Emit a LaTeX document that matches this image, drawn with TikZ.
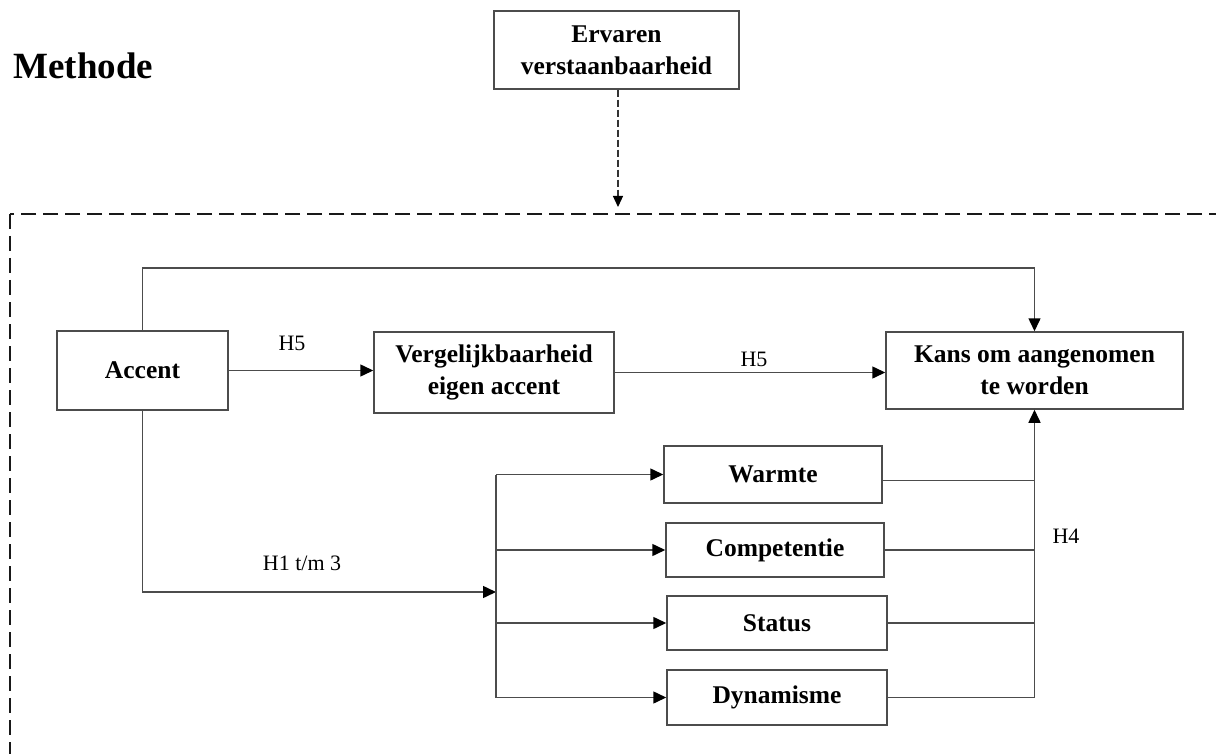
\documentclass[tikz,border=0pt]{standalone}
\usepackage{fontspec}
\setmainfont{Liberation Serif}
\usetikzlibrary{arrows.meta}

\begin{document}
\begin{tikzpicture}[
  x=1pt,
  y=-1pt,
  font=\fontsize{22}{26}\selectfont,
  box/.style={draw=black!70, line width=1.5pt, align=center, inner sep=0pt,
    font=\fontsize{25.5}{32}\selectfont\bfseries},
  small/.style={box, minimum width=220pt, minimum height=55pt},
  lbl/.style={anchor=base, font=\fontsize{22}{26}\selectfont},
  ln/.style={line width=1.5pt, draw=black!70},
  arr/.style={ln, -{Triangle[length=13pt, width=12pt, color=black]}},
  dasharr/.style={line width=1.2pt, draw=black!80, dash pattern=on 7pt off 3pt,
    -{Triangle[length=11pt, width=10pt, color=black]}},
  frame/.style={line width=2.3pt, draw=black!90, dash pattern=on 15pt off 7pt}
]

\useasboundingbox (0,0) rectangle (1216,754);
\clip (0,0) rectangle (1216,754);

% Titel en moderator
\node[anchor=base west, font=\fontsize{37}{40}\selectfont\bfseries] (title) at (10,79) {Methode};
\node[box, minimum width=245pt, minimum height=78pt] (ervaren) at (616.5,50) {Ervaren\\verstaanbaarheid};

% Gestippeld kader (loopt rechts en onder door)
\draw[frame] (10,214) rectangle (1240,790);
\coordinate (frametop) at (618,207);

% Hoofdrij
\node[box, minimum width=171pt, minimum height=79pt] (accent) at (142.5,370.5) {Accent};
\node[box, minimum width=240pt, minimum height=81pt] (verg) at (494,372.5) {Vergelijkbaarheid\\eigen accent};
\node[box, minimum width=297pt, minimum height=77pt] (kans) at (1034.5,370.5) {Kans om aangenomen\\te worden};

% Mediatoren
\node[small, minimum width=218pt, minimum height=57pt] (warmte) at (773,474.5) {Warmte};
\node[small, minimum width=218pt, minimum height=54pt] (comp) at (775,550) {Competentie};
\node[small, minimum height=54pt] (status) at (777,623) {Status};
\node[small] (dyn) at (777,697.5) {Dynamisme};

% Labels
\node[lbl] (h5a) at (292,350) {H5};
\node[lbl] (h5b) at (754,366) {H5};
\node[lbl] (h13) at (302,570) {H1 t/m 3};
\node[lbl] (h4)  at (1066,543) {H4};

% Moderator -> kader
\draw[dasharr] (ervaren.south -| frametop) -- (frametop);

% Directe effecten
\draw[arr] (accent.north) -- ++(0,-62) -| (kans.north);
\draw[arr] (accent.east) -- (accent.east -| verg.west);
\draw[arr] (verg.east) -- (verg.east -| kans.west);

% Waaier naar de mediatoren
\coordinate (fan) at (496,592);
\draw[arr] (accent.south) |- (fan);
\draw[ln] (warmte.west -| fan) -- (dyn.west -| fan);
\draw[arr] (warmte.west -| fan) -- (warmte.west);
\draw[arr] (comp.west -| fan) -- (comp.west);
\draw[arr] (status.west -| fan) -- (status.west);
\draw[arr] (dyn.west -| fan) -- (dyn.west);

% Mediatoren -> kans (H4)
\draw[arr] ([yshift=-6pt]warmte.east) -| (kans.south);
\draw[ln] (comp.east) -- (comp.east -| kans.south);
\draw[ln] (status.east) -- (status.east -| kans.south);
\draw[ln] (dyn.east) -- (dyn.east -| kans.south);
\draw[ln] (dyn.east -| kans.south) -- ([yshift=-6pt]warmte.east -| kans.south);

\end{tikzpicture}
\end{document}
